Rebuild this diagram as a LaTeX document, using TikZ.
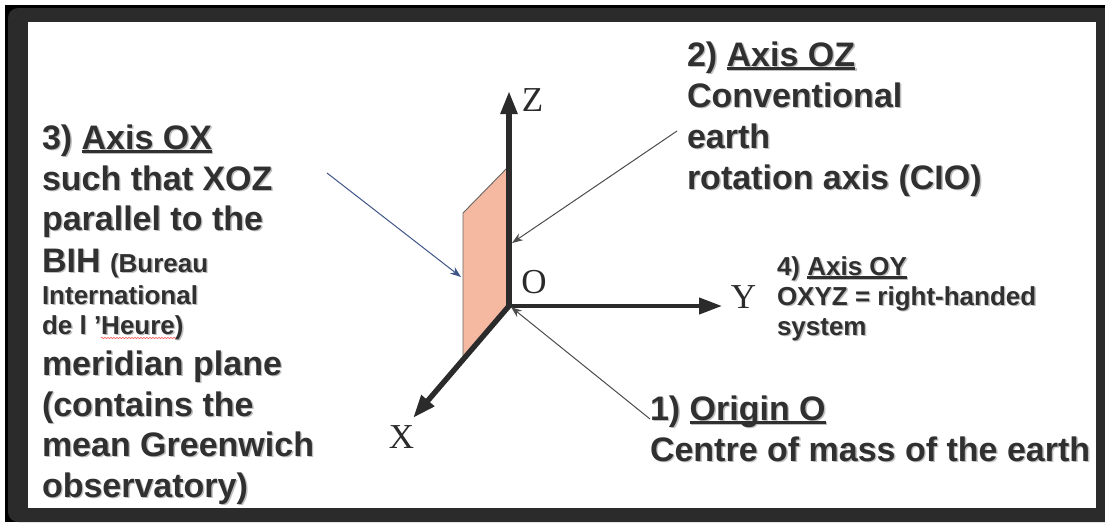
\documentclass[tikz,border=0pt]{standalone}
\usepackage{fontspec}
\setmainfont{Liberation Sans}
\newfontfamily\seriffam{Liberation Serif}
\usetikzlibrary{arrows.meta,decorations.pathmorphing}
\definecolor{framedark}{HTML}{2B2B2B}
\definecolor{inkdark}{HTML}{303030}
\definecolor{shadowgrey}{HTML}{BEBEBE}
\definecolor{planefill}{HTML}{F5B8A0}
\definecolor{navyline}{HTML}{3F5588}
\newsavebox\ulbox
\newcommand\ulin[1]{\sbox\ulbox{#1}\rlap{\rule[-3.8pt]{\wd\ulbox}{2.8pt}}\usebox\ulbox}
\newcommand\shd[1]{\rlap{\kern1.4pt\raisebox{-1.4pt}{\color{shadowgrey}#1}}#1}
\newcommand\tline[2]{\hbox{\vrule height #1pt width 0pt\smash{\shd{#2}}}}
\newcommand\bigsz{\fontsize{34}{34}\selectfont}
\newcommand\midsz{\fontsize{26}{26}\selectfont}
\tikzset{
  txt/.style={anchor=north west,inner sep=0pt,outer sep=0pt,text=inkdark,font=\bfseries},
  axislabel/.style={inner sep=0pt,text=framedark,font=\seriffam\fontsize{35}{35}\selectfont},
  axisline/.style={draw=framedark,line width=5.4pt,-{Stealth[inset=0pt,length=23pt,width=16pt]}},
  pointer/.style={draw=black!70,line width=1pt,-{Stealth[length=11pt,width=8pt]}},
}
\begin{document}
\begin{tikzpicture}[x=1pt,y=-1pt]
\useasboundingbox (0,0) rectangle (1105,522);
% frame
\fill[white] (0,0) rectangle (1105,522);
\fill[black] (5,5) rectangle (1105,522);
\fill[framedark,rounded corners=10pt] (8,8) rectangle (1125,522);
\fill[framedark] (1000,8) rectangle (1105,522);
\fill[white] (28,22) rectangle (1096,508);
% plane
\coordinate (O) at (509,306);
\coordinate (Ztip) at (509,91);
\coordinate (Ytip) at (722,306);
\coordinate (Xtip) at (413,418);
\filldraw[fill=planefill,draw=black!60,line width=0.9pt] (O) -- (509,166) -- (463,213) -- (463,358) -- cycle;
% axes
\draw[axisline] (O) -- (Ztip);
\draw[axisline,line width=4.2pt] (O) -- (Ytip);
\draw[axisline] (O) -- (Xtip);
% axis letters
\node[axislabel] (Z) at (532.5,100) {Z};
\node[axislabel] (o) at (534,282) {O};
\node[axislabel] (X) at (401.5,437) {X};
\node[axislabel] (Y) at (743.5,297) {Y};
% texts
\node[txt] (ox) at (42,108) {\vbox{\offinterlineskip
  \tline{41}{\bigsz 3) \ulin{Axis OX}}
  \tline{41}{\bigsz such that XOZ}
  \tline{40}{\bigsz parallel to the}
  \tline{42}{\bigsz BIH \midsz (Bureau}
  \tline{32}{\midsz International}
  \tline{30}{\midsz de l ’Heure)}
  \tline{41}{\bigsz meridian plane}
  \tline{41}{\bigsz (contains the}
  \tline{40}{\bigsz mean Greenwich}
  \tline{41}{\bigsz observatory)}}};
\node[txt] (oz) at (687,25) {\vbox{\offinterlineskip
  \tline{41}{\bigsz 2) \ulin{Axis OZ}}
  \tline{41}{\bigsz Conventional}
  \tline{41}{\bigsz earth}
  \tline{41}{\bigsz rotation axis (CIO)}}};
\node[txt] (oy) at (777,246) {\vbox{\offinterlineskip
  \tline{29}{\midsz 4) \ulin{Axis OY}}
  \tline{30}{\midsz OXYZ = right-handed}
  \tline{30}{\midsz system}}};
\node[txt] (or) at (650,379) {\vbox{\offinterlineskip
  \tline{41}{\bigsz 1) \ulin{Origin O}}
  \tline{41}{\bigsz Centre of mass of the earth}}};
% squiggle under Heure
\draw[red!70,line width=0.6pt,decorate,decoration={snake,amplitude=0.6pt,segment length=3pt}] (101,338) -- (176,338);
% pointers
\coordinate (ozfree) at (677,131);
\coordinate (ozend) at (512,243);
\coordinate (oxfree) at (327,173);
\coordinate (oxend) at (461,277);
\coordinate (orfree) at (650,419);
\coordinate (orend) at (511,307);
\draw[pointer] (ozfree) -- (ozend);
\draw[pointer,draw=navyline] (oxfree) -- (oxend);
\draw[pointer] (orfree) -- (orend);
\end{tikzpicture}
\end{document}
